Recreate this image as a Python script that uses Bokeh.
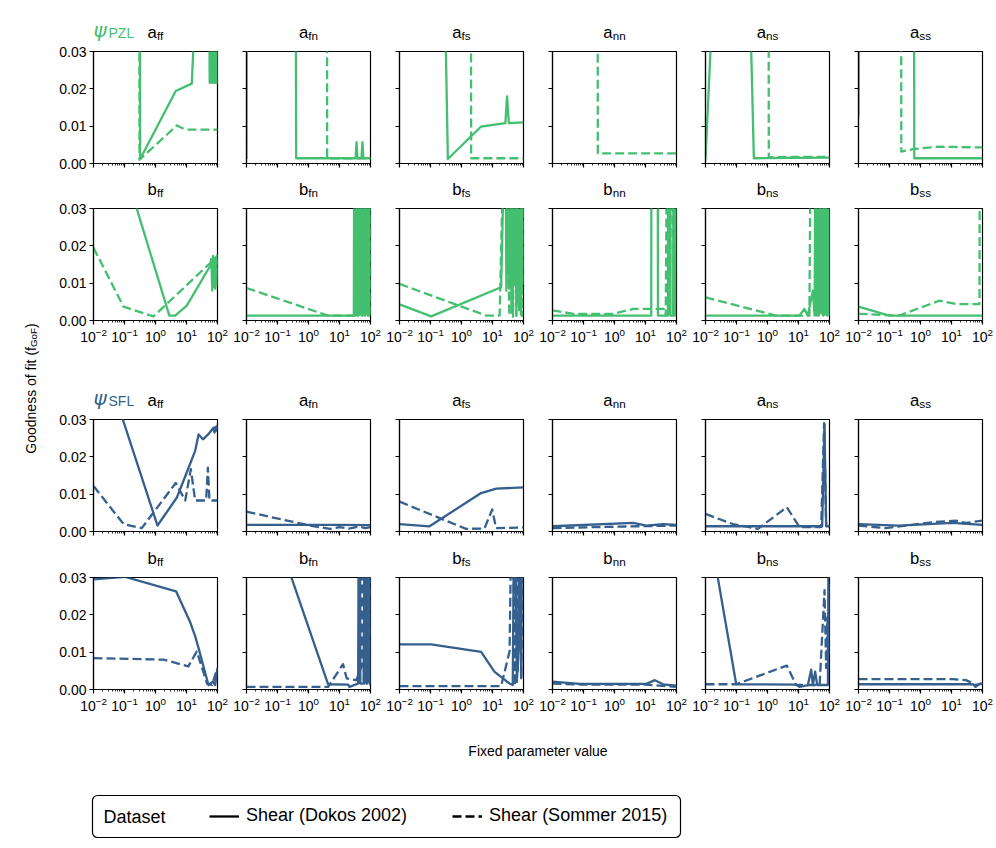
import math
from bokeh.plotting import figure
from bokeh.models import (Range1d, FixedTicker, LogTickFormatter, NumeralTickFormatter,
                          CustomJSTickFormatter, Label, Legend, LegendItem, BoxAnnotation)
from bokeh.layouts import row, column
from bokeh.embed import file_html
from bokeh.resources import INLINE

# ------------------------------------------------------------------ data
PARAM_SUBS = ["ff", "fn", "fs", "nn", "ns", "ss"]
X_MAJOR_TICKS = [0.01, 0.1, 1, 10, 100]
Y_TICKS = [0.0, 0.01, 0.02, 0.03]
LEGEND_TITLE = "Dataset"
LEGEND_LABELS = ["Shear (Dokos 2002)", "Shear (Sommer 2015)"]

# psi_PZL, a-parameters
PZL_AFF_DOKOS_X = [0.01, 0.31, 0.32, 4.5, 14.8, 20, 54, 56, 59, 62, 65, 68, 71, 74, 77, 80, 84, 88, 92, 96, 100]
PZL_AFF_DOKOS_Y = [0.08, 0.08, 0.0012, 0.0194, 0.0214, 0.045, 0.045, 0.0216, 0.045, 0.0216, 0.045, 0.0216, 0.045,
                   0.0216, 0.045, 0.0216, 0.045, 0.0216, 0.045, 0.0216, 0.045]
PZL_AFF_SOMMER_X = [0.01, 0.3, 0.305, 4.9, 9.1, 100]
PZL_AFF_SOMMER_Y = [0.08, 0.08, 0.001, 0.0102, 0.0091, 0.0091]

PZL_AFN_DOKOS_X = [0.01, 0.0105, 0.38, 0.40, 33, 35.5, 38, 51, 55, 59, 100]
PZL_AFN_DOKOS_Y = [0.0012, 0.08, 0.08, 0.0014, 0.0014, 0.0057, 0.0014, 0.0014, 0.0057, 0.0014, 0.0014]
PZL_AFN_SOMMER_X = [0.01, 3.95, 4.0, 100]
PZL_AFN_SOMMER_Y = [0.08, 0.08, 0.0014, 0.0014]

PZL_AFS_DOKOS_X = [0.01, 0.27, 0.363, 4.3, 26, 29.5, 33.6, 100]
PZL_AFS_DOKOS_Y = [0.08, 0.06, 0.0012, 0.0099, 0.0108, 0.018, 0.0108, 0.011]
PZL_AFS_SOMMER_X = [0.01, 2.0, 2.05, 100]
PZL_AFS_SOMMER_Y = [0.08, 0.08, 0.0014, 0.0014]

PZL_ANN_DOKOS_X = []
PZL_ANN_DOKOS_Y = []
PZL_ANN_SOMMER_X = [0.01, 0.285, 0.29, 100]
PZL_ANN_SOMMER_Y = [0.08, 0.08, 0.0027, 0.0027]

PZL_ANS_DOKOS_X = [0.01, 0.0175, 0.27, 0.363, 10, 100]
PZL_ANS_DOKOS_Y = [0.0012, 0.045, 0.045, 0.0014, 0.0015, 0.0016]
PZL_ANS_SOMMER_X = [0.01, 1.08, 1.1, 10, 100]
PZL_ANS_SOMMER_Y = [0.08, 0.08, 0.0017, 0.0018, 0.0018]

PZL_ASS_DOKOS_X = [0.01, 0.011, 0.62, 0.63, 100]
PZL_ASS_DOKOS_Y = [0.0124, 0.06, 0.06, 0.0014, 0.0014]
PZL_ASS_SOMMER_X = [0.01, 0.236, 0.24, 0.63, 4.0, 100]
PZL_ASS_SOMMER_Y = [0.08, 0.08, 0.0032, 0.0039, 0.0045, 0.0043]

# psi_PZL, b-parameters
PZL_BFF_DOKOS_X = [0.01, 2.8, 4.3, 10.2, 58, 63, 68, 72, 76, 80, 85, 90, 95, 100]
PZL_BFF_DOKOS_Y = [0.068, 0.0013, 0.0013, 0.004, 0.0146, 0.0165, 0.008, 0.0173, 0.009, 0.0168, 0.0085, 0.017, 0.0095, 0.0178]
PZL_BFF_SOMMER_X = [0.01, 0.093, 0.86, 46, 74, 80, 85, 90, 95, 100]
PZL_BFF_SOMMER_Y = [0.0195, 0.0037, 0.0011, 0.0146, 0.016, 0.012, 0.0165, 0.011, 0.016, 0.0165]

PZL_BFN_DOKOS_X = [0.01, 29, 30, 32, 34, 36, 38, 40, 43, 46, 49, 52, 55, 58, 62, 66, 70, 74, 78, 83, 88, 94, 100]
PZL_BFN_DOKOS_Y = [0.0013, 0.0013, 0.06, 0.0013, 0.06, 0.0015, 0.06, 0.0013, 0.06, 0.002, 0.06, 0.0013, 0.06, 0.0015,
                   0.06, 0.0013, 0.06, 0.0018, 0.06, 0.0013, 0.06, 0.0014, 0.06]
PZL_BFN_SOMMER_X = [0.01, 4.3, 30, 33, 37, 41, 45, 50, 56, 62, 69, 76, 84, 92, 100]
PZL_BFN_SOMMER_Y = [0.0087, 0.0013, 0.0013, 0.06, 0.0013, 0.06, 0.0015, 0.06, 0.0013, 0.06, 0.0014, 0.06, 0.0013, 0.06, 0.0015]

PZL_BFS_DOKOS_X = [0.01, 0.105, 19, 26, 28, 31, 34, 37, 41, 45, 49, 54, 59, 64, 70, 76, 83, 91, 100]
PZL_BFS_DOKOS_Y = [0.0043, 0.0011, 0.0089, 0.06, 0.008, 0.06, 0.0085, 0.06, 0.002, 0.06, 0.0095, 0.06, 0.0012, 0.06,
                   0.0045, 0.06, 0.0015, 0.06, 0.0095]
PZL_BFS_SOMMER_X = [0.01, 6.3, 17, 24.5, 35, 40, 46, 52, 58, 65, 72, 80, 90, 100]
PZL_BFS_SOMMER_Y = [0.0098, 0.0013, 0.0013, 0.06, 0.0013, 0.06, 0.001, 0.06, 0.0015, 0.06, 0.002, 0.06, 0.0012, 0.06]

PZL_BNN_DOKOS_X = [0.01, 15.3, 15.6, 24.8, 25.2, 53, 54, 63, 64, 78, 80, 88, 90, 100]
PZL_BNN_DOKOS_Y = [0.0013, 0.0013, 0.06, 0.06, 0.0013, 0.0013, 0.06, 0.06, 0.0013, 0.0013, 0.06, 0.06, 0.0013, 0.06]
PZL_BNN_SOMMER_X = [0.01, 0.047, 0.91, 4.0, 42, 45, 50, 60, 70, 85, 100]
PZL_BNN_SOMMER_Y = [0.0027, 0.0018, 0.0018, 0.0031, 0.0031, 0.0013, 0.06, 0.0013, 0.06, 0.0013, 0.0013]

PZL_BNS_DOKOS_X = [0.01, 10.7, 15.5, 20, 29, 33, 36, 39, 42, 46, 50, 54, 58, 63, 68, 73, 79, 85, 92, 100]
PZL_BNS_DOKOS_Y = [0.0013, 0.0013, 0.0031, 0.0013, 0.008, 0.0013, 0.06, 0.0013, 0.06, 0.0015, 0.06, 0.002, 0.06,
                   0.0013, 0.06, 0.0016, 0.06, 0.0013, 0.06, 0.0013]
PZL_BNS_SOMMER_X = [0.01, 1.9, 22.5, 25, 36, 37.5, 45, 55, 60, 70, 80, 100]
PZL_BNS_SOMMER_Y = [0.0062, 0.0013, 0.0013, 0.06, 0.06, 0.008, 0.0013, 0.06, 0.0013, 0.06, 0.0015, 0.0013]

PZL_BSS_DOKOS_X = [0.01, 0.098, 100]
PZL_BSS_DOKOS_Y = [0.0037, 0.0013, 0.0013]
PZL_BSS_SOMMER_X = [0.01, 0.2, 4.0, 13.8, 80, 82, 100]
PZL_BSS_SOMMER_Y = [0.0018, 0.0013, 0.0053, 0.0044, 0.0044, 0.06, 0.06]

# psi_SFL, a-parameters
SFL_AFF_DOKOS_X = [0.01, 1.16, 4.9, 10.2, 19, 24.5, 34, 50, 74, 80, 86, 92, 100]
SFL_AFF_DOKOS_Y = [0.054, 0.0016, 0.0091, 0.0158, 0.0216, 0.026, 0.0247, 0.026, 0.0278, 0.0265, 0.028, 0.027, 0.0285]
SFL_AFF_SOMMER_X = [0.01, 0.093, 0.36, 4.5, 9.1, 13.8, 19, 43, 49, 55, 100]
SFL_AFF_SOMMER_Y = [0.0122, 0.002, 0.0009, 0.013, 0.0083, 0.0167, 0.0083, 0.0083, 0.0171, 0.0083, 0.0083]

SFL_AFN_DOKOS_X = [0.01, 1, 10, 100]
SFL_AFN_DOKOS_Y = [0.0018, 0.0018, 0.0018, 0.0017]
SFL_AFN_SOMMER_X = [0.01, 1.1, 4.9, 10, 20, 40, 70, 100]
SFL_AFN_SOMMER_Y = [0.0053, 0.0016, 0.0007, 0.0012, 0.0008, 0.0013, 0.0009, 0.0012]

SFL_AFS_DOKOS_X = [0.01, 0.093, 4.3, 13.2, 100]
SFL_AFS_DOKOS_Y = [0.002, 0.0014, 0.0103, 0.0115, 0.0118]
SFL_AFS_SOMMER_X = [0.01, 1.4, 5.5, 9.8, 13, 100]
SFL_AFS_SOMMER_Y = [0.008, 0.0007, 0.0008, 0.0059, 0.0009, 0.0011]

SFL_ANN_DOKOS_X = [0.01, 4.0, 10.7, 37, 100]
SFL_ANN_DOKOS_Y = [0.0014, 0.0023, 0.0016, 0.002, 0.0018]
SFL_ANN_SOMMER_X = [0.01, 0.3, 100]
SFL_ANN_SOMMER_Y = [0.0009, 0.0012, 0.0016]

SFL_ANS_DOKOS_X = [0.01, 58, 69, 78, 100]
SFL_ANS_DOKOS_Y = [0.0014, 0.0014, 0.0287, 0.0014, 0.0014]
SFL_ANS_SOMMER_X = [0.01, 0.076, 0.49, 4.2, 10.7, 54, 67, 78, 100]
SFL_ANS_SOMMER_Y = [0.0047, 0.002, 0.0007, 0.0065, 0.0012, 0.0012, 0.029, 0.0016, 0.0014]

SFL_ASS_DOKOS_X = [0.01, 0.2, 10.7, 100]
SFL_ASS_DOKOS_Y = [0.002, 0.0016, 0.0023, 0.0018]
SFL_ASS_SOMMER_X = [0.01, 0.076, 2.5, 13.8, 29, 100]
SFL_ASS_SOMMER_Y = [0.0016, 0.0009, 0.0025, 0.0029, 0.0023, 0.0029]

# psi_SFL, b-parameters
SFL_BFF_DOKOS_X = [0.01, 0.1, 4.6, 13.2, 19, 24.5, 51, 71, 84, 100]
SFL_BFF_DOKOS_Y = [0.0295, 0.0302, 0.0263, 0.018, 0.0143, 0.0111, 0.0012, 0.0021, 0.0012, 0.0057]
SFL_BFF_SOMMER_X = [0.01, 1.8, 11.5, 21.5, 46, 66, 100]
SFL_BFF_SOMMER_Y = [0.0084, 0.008, 0.0062, 0.0102, 0.0016, 0.0012, 0.0057]

SFL_BFN_DOKOS_X = [0.01, 4.3, 19, 21, 40, 42, 46, 47, 63, 65, 68, 72, 76, 80, 85, 90, 95, 100]
SFL_BFN_DOKOS_Y = [0.065, 0.0014, 0.0013, 0.0007, 0.0016, 0.06, 0.06, 0.0016, 0.0016, 0.06, 0.002, 0.06, 0.0015,
                   0.06, 0.002, 0.06, 0.0014, 0.06]
SFL_BFN_SOMMER_X = [0.01, 4.3, 13, 17, 35, 51, 55, 60, 66, 72, 80, 90, 100]
SFL_BFN_SOMMER_Y = [0.0007, 0.0007, 0.0068, 0.003, 0.0025, 0.0062, 0.06, 0.002, 0.06, 0.0015, 0.06, 0.002, 0.06]

SFL_BFS_DOKOS_X = [0.01, 0.105, 4.3, 11.5, 35.5, 45, 51, 61, 70, 76, 84, 92, 100]
SFL_BFS_DOKOS_Y = [0.0121, 0.0121, 0.0101, 0.0048, 0.0016, 0.0012, 0.06, 0.002, 0.011, 0.06, 0.003, 0.06, 0.06]
SFL_BFS_SOMMER_X = [0.01, 19, 35.5, 43, 52.5, 58, 66, 75, 85, 100]
SFL_BFS_SOMMER_Y = [0.0009, 0.0009, 0.0102, 0.06, 0.001, 0.06, 0.005, 0.06, 0.003, 0.06]

SFL_BNN_DOKOS_X = [0.01, 0.076, 10.7, 20, 37, 100]
SFL_BNN_DOKOS_Y = [0.0021, 0.0015, 0.0015, 0.0025, 0.0014, 0.001]
SFL_BNN_SOMMER_X = [0.01, 0.1, 10, 100]
SFL_BNN_SOMMER_Y = [0.0016, 0.0013, 0.0013, 0.0007]

SFL_BNS_DOKOS_X = [0.01, 0.098, 8.4, 10.7, 20, 25.7, 29, 34.5, 40, 89, 95, 100]
SFL_BNS_DOKOS_Y = [0.049, 0.0014, 0.0013, 0.0007, 0.0012, 0.0053, 0.0012, 0.0048, 0.0012, 0.0012, 0.06, 0.06]
SFL_BNS_SOMMER_X = [0.01, 0.098, 4.2, 8.4, 48, 69, 78, 86, 92, 97, 100]
SFL_BNS_SOMMER_Y = [0.0014, 0.0014, 0.0064, 0.0012, 0.0012, 0.0266, 0.0057, 0.0193, 0.0057, 0.028, 0.010]

SFL_BSS_DOKOS_X = [0.01, 50, 60, 75, 100]
SFL_BSS_DOKOS_Y = [0.0014, 0.0014, 0.0007, 0.0014, 0.0016]
SFL_BSS_SOMMER_X = [0.01, 10.7, 29, 42, 60, 89, 100]
SFL_BSS_SOMMER_Y = [0.0028, 0.0028, 0.0025, 0.0019, 0.0012, 0.0016, 0.0014]

ROWS = [
    ("a", "PZL", [
        (PZL_AFF_DOKOS_X, PZL_AFF_DOKOS_Y, PZL_AFF_SOMMER_X, PZL_AFF_SOMMER_Y),
        (PZL_AFN_DOKOS_X, PZL_AFN_DOKOS_Y, PZL_AFN_SOMMER_X, PZL_AFN_SOMMER_Y),
        (PZL_AFS_DOKOS_X, PZL_AFS_DOKOS_Y, PZL_AFS_SOMMER_X, PZL_AFS_SOMMER_Y),
        (PZL_ANN_DOKOS_X, PZL_ANN_DOKOS_Y, PZL_ANN_SOMMER_X, PZL_ANN_SOMMER_Y),
        (PZL_ANS_DOKOS_X, PZL_ANS_DOKOS_Y, PZL_ANS_SOMMER_X, PZL_ANS_SOMMER_Y),
        (PZL_ASS_DOKOS_X, PZL_ASS_DOKOS_Y, PZL_ASS_SOMMER_X, PZL_ASS_SOMMER_Y)]),
    ("b", "PZL", [
        (PZL_BFF_DOKOS_X, PZL_BFF_DOKOS_Y, PZL_BFF_SOMMER_X, PZL_BFF_SOMMER_Y),
        (PZL_BFN_DOKOS_X, PZL_BFN_DOKOS_Y, PZL_BFN_SOMMER_X, PZL_BFN_SOMMER_Y),
        (PZL_BFS_DOKOS_X, PZL_BFS_DOKOS_Y, PZL_BFS_SOMMER_X, PZL_BFS_SOMMER_Y),
        (PZL_BNN_DOKOS_X, PZL_BNN_DOKOS_Y, PZL_BNN_SOMMER_X, PZL_BNN_SOMMER_Y),
        (PZL_BNS_DOKOS_X, PZL_BNS_DOKOS_Y, PZL_BNS_SOMMER_X, PZL_BNS_SOMMER_Y),
        (PZL_BSS_DOKOS_X, PZL_BSS_DOKOS_Y, PZL_BSS_SOMMER_X, PZL_BSS_SOMMER_Y)]),
    ("a", "SFL", [
        (SFL_AFF_DOKOS_X, SFL_AFF_DOKOS_Y, SFL_AFF_SOMMER_X, SFL_AFF_SOMMER_Y),
        (SFL_AFN_DOKOS_X, SFL_AFN_DOKOS_Y, SFL_AFN_SOMMER_X, SFL_AFN_SOMMER_Y),
        (SFL_AFS_DOKOS_X, SFL_AFS_DOKOS_Y, SFL_AFS_SOMMER_X, SFL_AFS_SOMMER_Y),
        (SFL_ANN_DOKOS_X, SFL_ANN_DOKOS_Y, SFL_ANN_SOMMER_X, SFL_ANN_SOMMER_Y),
        (SFL_ANS_DOKOS_X, SFL_ANS_DOKOS_Y, SFL_ANS_SOMMER_X, SFL_ANS_SOMMER_Y),
        (SFL_ASS_DOKOS_X, SFL_ASS_DOKOS_Y, SFL_ASS_SOMMER_X, SFL_ASS_SOMMER_Y)]),
    ("b", "SFL", [
        (SFL_BFF_DOKOS_X, SFL_BFF_DOKOS_Y, SFL_BFF_SOMMER_X, SFL_BFF_SOMMER_Y),
        (SFL_BFN_DOKOS_X, SFL_BFN_DOKOS_Y, SFL_BFN_SOMMER_X, SFL_BFN_SOMMER_Y),
        (SFL_BFS_DOKOS_X, SFL_BFS_DOKOS_Y, SFL_BFS_SOMMER_X, SFL_BFS_SOMMER_Y),
        (SFL_BNN_DOKOS_X, SFL_BNN_DOKOS_Y, SFL_BNN_SOMMER_X, SFL_BNN_SOMMER_Y),
        (SFL_BNS_DOKOS_X, SFL_BNS_DOKOS_Y, SFL_BNS_SOMMER_X, SFL_BNS_SOMMER_Y),
        (SFL_BSS_DOKOS_X, SFL_BSS_DOKOS_Y, SFL_BSS_SOMMER_X, SFL_BSS_SOMMER_Y)]),
]

# ------------------------------------------------------------------ style / layout
COLORS = {"PZL": "#44bf70", "SFL": "#355f8d"}
FONT = "Liberation Sans"
LW = 2.3
DASH = "9 4"
FRAME_W, FRAME_H = 124, 112
PANEL_TOP = 10                                  # border above each frame (inside panel figure)
STRIP_H = [41, 25, 35, 26]                      # title strips above each panel row
ROW_BOTTOM = [10, 54, 10, 32]
SHOW_XLABELS = [False, True, False, True]
YLAB_W = 45
COL_LEFT = [48, 14, 14, 14, 14, 14]
COL_RIGHT = [15, 15, 15, 15, 15, 14]
GRID_W = sum(COL_LEFT) + sum(COL_RIGHT) + 6 * FRAME_W
TOTAL_W = YLAB_W + GRID_W
FOOT_H = 119
MINOR_X = [m * 10.0 ** e for e in range(-2, 2) for m in range(2, 10)]

# approx. Arial advance widths (em) for centring composed titles
ADV = {"a": 0.556, "b": 0.556, "f": 0.278, "n": 0.556, "s": 0.5}
TITLE_PX, SUB_PX = 16.7, 11.7


def text_w(s, px):
    return sum(ADV.get(c, 0.55) for c in s) * px


def frame_left(ci):
    x = 0
    for c in range(ci):
        x += COL_LEFT[c] + FRAME_W + COL_RIGHT[c]
    return x + COL_LEFT[ci]


def text_fig(w, h):
    f = figure(width=w, height=h, x_range=Range1d(0, w), y_range=Range1d(0, h),
               min_border=0, x_axis_location=None, y_axis_location=None, title=None,
               toolbar_location=None, output_backend="svg", outline_line_color=None,
               background_fill_color="white", border_fill_color="white")
    f.grid.visible = False
    return f


def make_panel(ri, ci, model, data):
    p = figure(x_axis_type="log", x_range=Range1d(1e-2, 1e2), y_range=Range1d(0, 0.03),
               frame_width=FRAME_W, frame_height=FRAME_H, title=None,
               min_border_left=COL_LEFT[ci], min_border_right=COL_RIGHT[ci],
               min_border_top=PANEL_TOP, min_border_bottom=ROW_BOTTOM[ri],
               toolbar_location=None, output_backend="svg",
               background_fill_color="white", border_fill_color="white")
    p.grid.visible = False
    p.outline_line_color = "black"
    p.outline_line_width = 1.2

    xa = p.xaxis[0]
    xa.ticker = FixedTicker(ticks=X_MAJOR_TICKS, minor_ticks=MINOR_X)
    ya = p.yaxis[0]
    ya.ticker = FixedTicker(ticks=Y_TICKS)
    for ax in (xa, ya):
        ax.axis_line_color = "black"
        ax.axis_line_width = 1.2
        ax.major_tick_line_color = "black"
        ax.major_tick_line_width = 1.2
        ax.major_tick_out = 4
        ax.major_tick_in = 0
        ax.minor_tick_line_color = "black"
        ax.minor_tick_line_width = 0.8
        ax.minor_tick_out = 2
        ax.minor_tick_in = 0
        ax.major_label_text_font = FONT
        ax.major_label_text_font_size = "14px"
        ax.major_label_text_color = "black"
        ax.major_label_standoff = 3
    if SHOW_XLABELS[ri]:
        xa.formatter = LogTickFormatter()
    else:
        xa.formatter = CustomJSTickFormatter(code="return ''")
        xa.major_label_text_font_size = "0px"
    if ci == 0:
        ya.formatter = NumeralTickFormatter(format="0.00")
    else:
        ya.formatter = CustomJSTickFormatter(code="return ''")
        ya.major_label_text_font_size = "0px"

    color = COLORS[model]
    dx, dy, sx, sy = data
    if sx:
        p.line(sx, sy, line_color=color, line_width=LW, line_dash=DASH, line_join="round")
    if dx:
        p.line(dx, dy, line_color=color, line_width=LW, line_join="round")
    return p


def make_strip(ri, letter, model):
    h = STRIP_H[ri]
    s = text_fig(GRID_W, h)
    # vertical centres, measured in px above the frame top
    main_c, sub_c = 19.2, 16.0
    for ci, sub in enumerate(PARAM_SUBS):
        cx = frame_left(ci) + FRAME_W / 2
        wm, ws = text_w(letter, TITLE_PX), text_w(sub, SUB_PX)
        x0 = cx - (wm + ws) / 2
        s.add_layout(Label(x=x0, y=main_c - PANEL_TOP, text=letter, text_font=FONT,
                           text_font_size=f"{TITLE_PX}px", text_color="black",
                           text_align="left", text_baseline="middle"))
        s.add_layout(Label(x=x0 + wm, y=sub_c - PANEL_TOP, text=sub, text_font=FONT,
                           text_font_size=f"{SUB_PX}px", text_color="black",
                           text_align="left", text_baseline="middle"))
    if letter == "a":
        color = COLORS[model]
        xl = frame_left(0)
        s.add_layout(Label(x=xl, y=22 - PANEL_TOP, text="\u03c8", text_font="DejaVu Sans",
                           text_font_style="italic", text_font_size="20px", text_color=color,
                           text_align="left", text_baseline="middle"))
        s.add_layout(Label(x=xl + 15, y=18.7 - PANEL_TOP, text=model, text_font=FONT,
                           text_font_size="14px", text_color=color,
                           text_align="left", text_baseline="middle"))
    return s


blocks = []
for ri, (letter, model, panels) in enumerate(ROWS):
    blocks.append(make_strip(ri, letter, model))
    blocks.append(row(*[make_panel(ri, ci, model, panels[ci]) for ci in range(6)]))
grid = column(*blocks)

GRID_H = sum(STRIP_H) + 4 * (PANEL_TOP + FRAME_H) + sum(ROW_BOTTOM)

# y-axis label column (rotated text, composed with a subscript)
ylab = text_fig(YLAB_W, GRID_H)
YL_PX, YL_SUB = 14, 9.8
main_txt, sub_txt, end_txt = "Goodness of fit (f", "GoF", ")"
w_main = 7.615 * YL_PX
w_sub = 1.945 * YL_SUB
w_end = 0.333 * YL_PX
yc = GRID_H - 388
y0 = yc - (w_main + w_sub + w_end) / 2
xc = 30
for txt, yy, xo, fs in [(main_txt, y0, 0, YL_PX), (sub_txt, y0 + w_main, 3, YL_SUB),
                        (end_txt, y0 + w_main + w_sub, 0, YL_PX)]:
    ylab.add_layout(Label(x=xc + xo, y=yy, text=txt, angle=math.pi / 2,
                          text_font=FONT, text_font_size=f"{fs}px", text_color="black",
                          text_align="left", text_baseline="middle"))

# footer with x label and legend
foot = text_fig(TOTAL_W, FOOT_H)
grid_cx = YLAB_W + (frame_left(0) + frame_left(5) + FRAME_W) / 2
foot.add_layout(Label(x=grid_cx, y=FOOT_H - 29, text="Fixed parameter value", text_font=FONT,
                      text_font_size="14px", text_color="black", text_align="center",
                      text_baseline="middle"))
box_kw = dict(left=92, right=680, bottom=3, top=45, fill_color="white", fill_alpha=1.0,
              line_color="black", line_width=1.2, line_alpha=1.0)
try:
    legend_box = BoxAnnotation(border_radius=5, **box_kw)
except Exception:
    legend_box = BoxAnnotation(**box_kw)
foot.add_layout(legend_box)
foot.add_layout(Label(x=103, y=24, text=LEGEND_TITLE, text_font=FONT, text_font_size="18px",
                      text_color="black", text_align="left", text_baseline="middle"))
# legend proxies (outside the visible range of the footer)
r_solid = foot.line(x=[-50, -40], y=[-50, -50], line_color="black", line_width=LW)
r_dash = foot.line(x=[-50, -40], y=[-50, -50], line_color="black", line_width=LW, line_dash=DASH)
legend = Legend(items=[LegendItem(label=LEGEND_LABELS[0], renderers=[r_solid]),
                       LegendItem(label=LEGEND_LABELS[1], renderers=[r_dash])],
                orientation="horizontal", location=(209, 14),
                label_text_font=FONT, label_text_font_size="18px", label_text_color="black",
                label_standoff=7, glyph_width=30, glyph_height=20, label_height=20,
                spacing=45, padding=0, margin=0, border_line_color=None,
                background_fill_alpha=0.0)
foot.add_layout(legend, "center")

layout = column(row(ylab, grid), foot)

open("out.html", "w").write(file_html(layout, INLINE))
